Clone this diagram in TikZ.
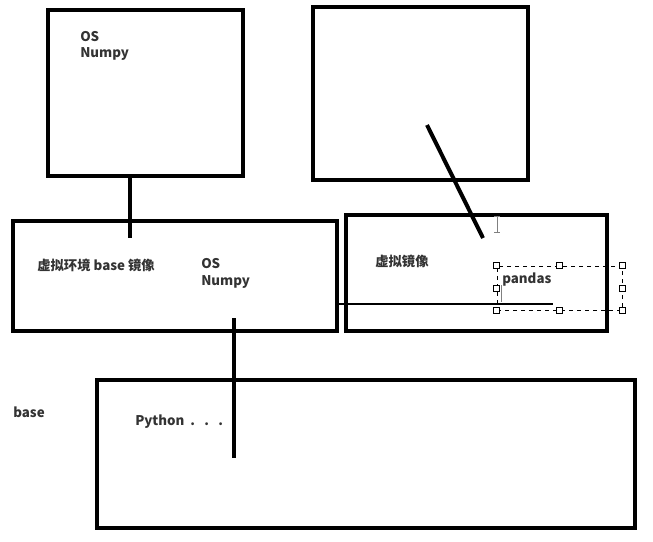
\documentclass[tikz,border=0pt]{standalone}
\usepackage{fontspec}
\setmainfont{Noto Sans CJK SC}
\usetikzlibrary{positioning}

\tikzset{
  box/.style={draw, line width=3pt, inner sep=0pt},
  stick/.style={line width=3pt},
  lbl/.style={font=\bfseries\fontsize{10}{12.2}\selectfont, text=black!80, inner sep=0pt, anchor=west, align=left},
  handle/.style={draw, fill=white, line width=0.6pt, minimum size=4.5pt, inner sep=0pt}
}

\begin{document}
\begin{tikzpicture}[x=0.75pt, y=-0.75pt]
    \useasboundingbox (0,0) rectangle (653,542);

    % 1. Boxes
    \node[box, minimum width=146.25pt, minimum height=124.5pt] (osbox) at (145.5,93) {};
    \node[box, minimum width=161.25pt, minimum height=129.75pt] (topbox) at (420.5,93.5) {};
    \node[box, minimum width=243pt, minimum height=82.5pt] (basebox) at (175,276) {};
    \node[box, minimum width=195.75pt, minimum height=87pt] (virtbox) at (476.5,273) {};
    \node[box, minimum width=403.5pt, minimum height=111pt] (pybox) at (366,454) {};

    % 2. Labels
    \node[lbl] (osnp) at (80,46) {OS\\Numpy};
    \node[lbl] (basename) at (37,265) {虚拟环境 base 镜像};
    \node[lbl] (osnp2) at (201,273.5) {OS\\Numpy};
    \node[lbl] (virtname) at (375,261) {虚拟镜像};
    \node[lbl] (pandas) at (502,280) {pandas};
    \node[lbl] (basetxt) at (13,412) {base};
    \node[lbl] (python) at (135,422) {Python\hspace{4.5pt}.\hspace{7pt}.\hspace{7pt}.};

    % 3. Sticks between the boxes
    \coordinate (s1a) at (130,176);
    \coordinate (s1b) at (130,238);
    \coordinate (s2a) at (427,125);
    \coordinate (s2b) at (483,238);
    \coordinate (s3a) at (234,318);
    \coordinate (s3b) at (234,458);
    \coordinate (h1) at (337,304);
    \coordinate (h2) at (553,304);
    \draw[stick] (s1a) -- (s1b);
    \draw[stick] (s2a) -- (s2b);
    \draw[stick] (s3a) -- (s3b);
    \draw[line width=1.2pt] (h1) -- (h2);

    % 4. Selection frame round "pandas"
    \node[draw, dashed, line width=0.6pt, minimum width=93.75pt, minimum height=33pt, inner sep=0pt] (sel) at (559.5,288) {};
    \foreach \a in {north west, north, north east, west, east, south west, south, south east}
      \node[handle] at (sel.\a) {};

    % text cursors
    \coordinate (c1) at (501,285);
    \coordinate (c2) at (501,302);
    \draw[gray, line width=0.6pt] (c1) -- (c2);
    \coordinate (ib1) at (497,216);
    \coordinate (ib2) at (497,232);
    \draw[gray, line width=0.7pt] (ib1) -- (ib2)
      (494,216) -- (500,216) (494,232) -- (500,232);

\end{tikzpicture}
\end{document}
